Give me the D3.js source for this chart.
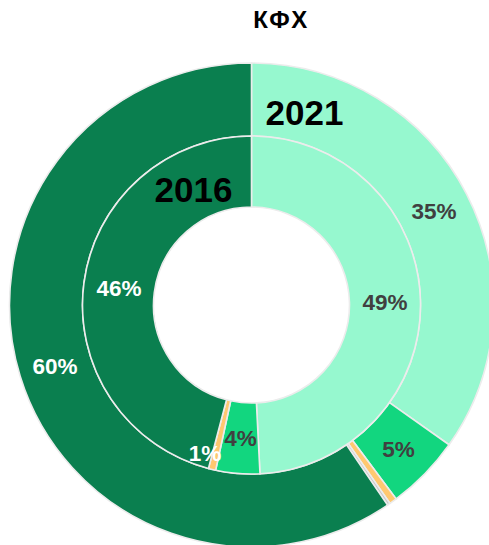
<!DOCTYPE html>
<html>
<head>
<meta charset="utf-8">
<script src="https://cdn.jsdelivr.net/npm/d3@7"></script>
<style>
  body { margin: 0; background: #fff; }
  svg { display: block; font-family: "Liberation Sans", Arial, sans-serif; }
</style>
</head>
<body>
<div id="chart"></div>
<script>
// slices, clockwise from 12 o'clock
const categories = ["A", "B", "C", "D", "E"]
const colors = ["#96f8cf", "#12d67f", "#ffc870", "#c8c8c8", "#0a7f4f"]
const labelColors = ["#404040", "#404040", "#ffffff", "#ffffff", "#ffffff"]
const values2021 = [34.8, 5.0, 0.5, 0.2, 59.5]
const values2016 = [49.2, 4.2, 0.7, 0, 45.9]
const labels2021 = ["35%", "5%", "", "", "60%"]
const labels2016 = ["49%", "4%", "1%", "", "46%"]
const title = "КФХ"

const width = 489, height = 545
const cx = 251.5, cy = 305
const rHole = 98, rMid = 169, rOuter = 242

const svg = d3.select("#chart").append("svg")
  .attr("width", width)
  .attr("height", height)

svg.append("text")
  .attr("x", 281)
  .attr("y", 28)
  .attr("text-anchor", "middle")
  .attr("font-size", 24)
  .attr("letter-spacing", 1.5)
  .attr("font-weight", "bold")
  .attr("fill", "#000")
  .text(title)

const g = svg.append("g").attr("transform", `translate(${cx},${cy})`)

const pie = d3.pie().sort(null).value(d => d.value)

const rings = [
  {year: "2021", values: values2021, labels: labels2021, r0: rMid, r1: rOuter},
  {year: "2016", values: values2016, labels: labels2016, r0: rHole, r1: rMid}
]

rings.forEach(ring => {
  const data = categories.map((c, i) => ({key: c, i: i, value: ring.values[i], label: ring.labels[i]}))
  const arcs = pie(data)
  const arc = d3.arc().innerRadius(ring.r0).outerRadius(ring.r1)

  g.append("g")
    .selectAll("path")
    .data(arcs.filter(d => d.data.value > 0))
    .join("path")
    .attr("d", arc)
    .attr("fill", d => colors[d.data.i])
    .attr("stroke", "#ececec")
    .attr("stroke-width", 1.6)

  const labelArc = d3.arc().innerRadius(ring.r0).outerRadius(ring.r1)
  // tiny slices get their label pushed outward
  const smallArc = d3.arc().innerRadius(ring.r1 - 28).outerRadius(ring.r1 - 6)

  g.append("g")
    .selectAll("text")
    .data(arcs.filter(d => d.data.label))
    .join("text")
    .attr("transform", d => {
      const small = d.data.value < 2
      const p = (small ? smallArc : labelArc).centroid(d)
      return `translate(${p[0] + (small ? -11 : 0)},${p[1]})`
    })
    .attr("text-anchor", "middle")
    .attr("dy", "0.36em")
    .attr("font-size", 22.5)
    .attr("font-weight", "bold")
    .attr("fill", d => labelColors[d.data.i])
    .text(d => d.data.label)
})

// year captions
svg.append("text")
  .attr("x", cx + 53)
  .attr("y", cy - 180)
  .attr("text-anchor", "middle")
  .attr("font-size", 35)
  .attr("font-weight", "bold")
  .attr("fill", "#000")
  .text("2021")

svg.append("text")
  .attr("x", cx - 58)
  .attr("y", cy - 103)
  .attr("text-anchor", "middle")
  .attr("font-size", 35)
  .attr("font-weight", "bold")
  .attr("fill", "#000")
  .text("2016")
</script>
</body>
</html>
